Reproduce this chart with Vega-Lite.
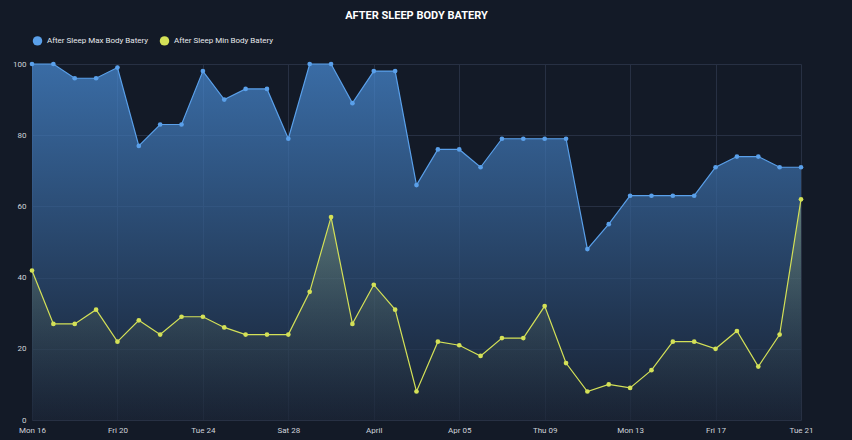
{
  "$schema": "https://vega.github.io/schema/vega-lite/v6.json",
  "width": 852,
  "height": 440,
  "autosize": {"type": "fit", "contains": "padding"},
  "padding": {"left": 12, "right": 38, "top": 10, "bottom": 6},
  "background": "#131a27",
  "title": {"text": "AFTER SLEEP BODY BATERY", "color": "#ffffff", "fontSize": 11, "font": "Roboto", "fontWeight": "bold", "offset": 14},
  "config": {
    "view": {"stroke": null},
    "axis": {"labelColor": "#cfd3da", "labelFont": "Roboto", "labelFontSize": 8, "gridColor": "#273043", "domain": false, "ticks": false, "title": null},
    "legend": {"labelColor": "#e6e8ec", "labelFont": "Roboto", "labelFontSize": 8}
  },
  "data": {"values": [
    {"date": "2026-03-16", "max": 100, "min": 42},
    {"date": "2026-03-17", "max": 100, "min": 27},
    {"date": "2026-03-18", "max": 96, "min": 27},
    {"date": "2026-03-19", "max": 96, "min": 31},
    {"date": "2026-03-20", "max": 99, "min": 22},
    {"date": "2026-03-21", "max": 77, "min": 28},
    {"date": "2026-03-22", "max": 83, "min": 24},
    {"date": "2026-03-23", "max": 83, "min": 29},
    {"date": "2026-03-24", "max": 98, "min": 29},
    {"date": "2026-03-25", "max": 90, "min": 26},
    {"date": "2026-03-26", "max": 93, "min": 24},
    {"date": "2026-03-27", "max": 93, "min": 24},
    {"date": "2026-03-28", "max": 79, "min": 24},
    {"date": "2026-03-29", "max": 100, "min": 36},
    {"date": "2026-03-30", "max": 100, "min": 57},
    {"date": "2026-03-31", "max": 89, "min": 27},
    {"date": "2026-04-01", "max": 98, "min": 38},
    {"date": "2026-04-02", "max": 98, "min": 31},
    {"date": "2026-04-03", "max": 66, "min": 8},
    {"date": "2026-04-04", "max": 76, "min": 22},
    {"date": "2026-04-05", "max": 76, "min": 21},
    {"date": "2026-04-06", "max": 71, "min": 18},
    {"date": "2026-04-07", "max": 79, "min": 23},
    {"date": "2026-04-08", "max": 79, "min": 23},
    {"date": "2026-04-09", "max": 79, "min": 32},
    {"date": "2026-04-10", "max": 79, "min": 16},
    {"date": "2026-04-11", "max": 48, "min": 8},
    {"date": "2026-04-12", "max": 55, "min": 10},
    {"date": "2026-04-13", "max": 63, "min": 9},
    {"date": "2026-04-14", "max": 63, "min": 14},
    {"date": "2026-04-15", "max": 63, "min": 22},
    {"date": "2026-04-16", "max": 63, "min": 22},
    {"date": "2026-04-17", "max": 71, "min": 20},
    {"date": "2026-04-18", "max": 74, "min": 25},
    {"date": "2026-04-19", "max": 74, "min": 15},
    {"date": "2026-04-20", "max": 71, "min": 24},
    {"date": "2026-04-21", "max": 71, "min": 62}
  ]},
  "encoding": {
    "x": {"field": "date", "type": "temporal", "scale": {"type": "utc"},
      "axis": {"format": "%Y-%m-%d", "formatType": "utc", "labelAngle": 0,
        "values": ["2026-03-16", "2026-03-20", "2026-03-24", "2026-03-28", "2026-04-01", "2026-04-05", "2026-04-09", "2026-04-13", "2026-04-17", "2026-04-21"],
        "labelFlush": false, "labelPadding": 6}}
  },
  "layer": [
    {
      "mark": {"type": "area", "line": {"color": "#5aa0ea", "strokeWidth": 1.2},
        "color": {"gradient": "linear", "x1": 0, "y1": 0, "x2": 0, "y2": 1,
          "stops": [{"offset": 0, "color": "#4a8fdb"}, {"offset": 1, "color": "#1a2436"}]}},
      "encoding": {"y": {"field": "max", "type": "quantitative", "scale": {"domain": [0, 100]},
        "axis": {"values": [0, 10, 20, 30, 40, 50, 60, 70, 80, 90, 100], "labelPadding": 6}}}
    },
    {
      "mark": {"type": "area", "line": {"color": "#d4e157", "strokeWidth": 1.2},
        "color": {"gradient": "linear", "x1": 0, "y1": 0, "x2": 0, "y2": 1,
          "stops": [{"offset": 0, "color": "rgba(180,200,120,0.55)"}, {"offset": 1, "color": "rgba(40,55,70,0.1)"}]}},
      "encoding": {"y": {"field": "min", "type": "quantitative"}}
    },
    {
      "transform": [{"fold": ["max", "min"], "as": ["series", "value"]}],
      "mark": {"type": "point", "filled": true, "size": 22, "strokeWidth": 1, "opacity": 1},
      "encoding": {
        "y": {"field": "value", "type": "quantitative"},
        "color": {"field": "series", "type": "nominal",
          "scale": {"domain": ["max", "min"], "range": ["#5aa0ea", "#d4e157"]},
          "legend": {"orient": "top", "direction": "horizontal", "title": null, "symbolSize": 90, "symbolType": "circle",
            "labelExpr": "datum.value == 'max' ? 'After Sleep Max Body Batery' : 'After Sleep Min Body Batery'"}}
      }
    }
  ]
}
